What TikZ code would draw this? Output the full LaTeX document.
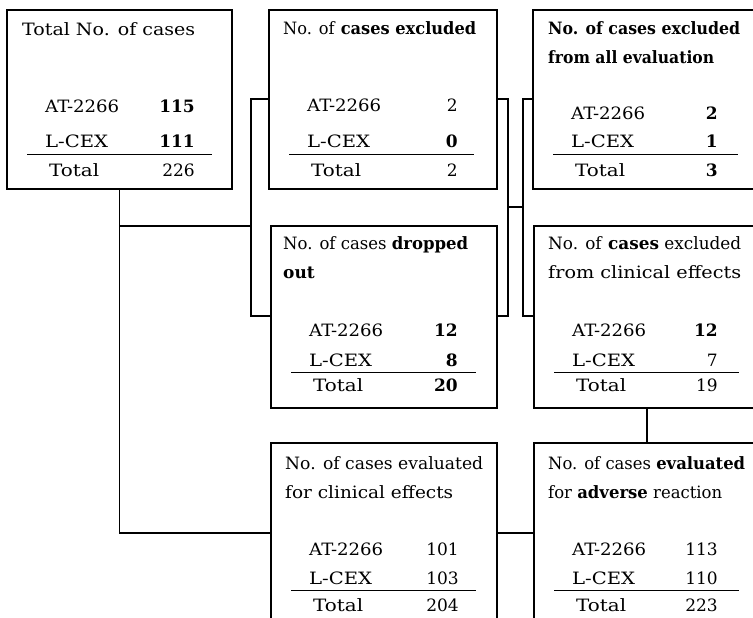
\documentclass[tikz,border=0pt]{standalone}
\usepackage{fontspec}
\usepackage{graphicx}
\setmainfont{DejaVu Serif}
\usetikzlibrary{calc}
\tikzset{
  box/.style={draw, line width=1.2pt, rectangle, inner sep=0pt, outer sep=0pt, anchor=north west},
  conn/.style={line width=1.2pt},
  txt/.style={anchor=base west, inner sep=0pt, font=\fontsize{17}{19}\selectfont},
  num/.style={anchor=base east, inner sep=0pt, font=\fontsize{17}{19}\selectfont},
  rulel/.style={line width=1pt},
}
\newcommand\fw[2]{\resizebox{#1}{\height}{#2}}
% #1 box, #2 AT num, #3 LCEX num, #4 total num, #5 yAT, #6 yL, #7 yRule, #8 yTot, #9 num x
\newcommand\tabrows[9]{%
  \node[txt] (#1a) at ($(#1.north west)+(38,#5)$) {\fw{74pt}{AT-2266}};
  \node[num] (#1an) at ($(#1.north west)+(#9,#5)$) {#2};
  \node[txt] (#1l) at ($(#1.north west)+(38,#6)$) {\fw{63pt}{L-CEX}};
  \node[num] (#1ln) at ($(#1.north west)+(#9,#6)$) {#3};
  \draw[rulel] ($(#1.north west)+(20,#7)$) -- ($(#1.north west)+(205,#7)$);
  \node[txt] (#1t) at ($(#1.north west)+(42,#8)$) {\fw{50pt}{Total}};
  \node[num] (#1tn) at ($(#1.north west)+(#9,#8)$) {#4};
}
\begin{document}
\begin{tikzpicture}[x=1pt,y=-1pt]
\useasboundingbox (0,0) rectangle (753,618);
\fill[white] (0,0) rectangle (753,618);
\clip (0,0) rectangle (753,618);
% boxes
\node[box, minimum width=225pt, minimum height=179pt] (b1) at (7,10) {};
\node[box, minimum width=228pt, minimum height=179pt] (b2) at (269,10) {};
\node[box, minimum width=240pt, minimum height=179pt] (b3) at (533,10) {};
\node[box, minimum width=226pt, minimum height=182pt] (b4) at (271,226) {};
\node[box, minimum width=240pt, minimum height=182pt] (b5) at (534,226) {};
\node[box, minimum width=226pt, minimum height=190pt] (b6) at (271,443) {};
\node[box, minimum width=240pt, minimum height=190pt] (b7) at (534,443) {};
% titles
\node[txt] (b1h) at ($(b1.north west)+(15,26)$) {\fw{173pt}{Total No. of cases}};
\node[txt] (b2h) at ($(b2.north west)+(14,25)$) {\fw{193pt}{No. of \textbf{cases excluded}}};
\node[txt] (b3h) at ($(b3.north west)+(15,25)$) {\fw{192pt}{\textbf{No. of cases excluded}}};
\node[txt] (b3h2) at ($(b3.north west)+(15,54)$) {\fw{166pt}{\textbf{from all evaluation}}};
\node[txt] (b4h) at ($(b4.north west)+(12,23)$) {\fw{185pt}{No. of cases \textbf{dropped}}};
\node[txt] (b4h2) at ($(b4.north west)+(12,52)$) {\textbf{out}};
\node[txt] (b5h) at ($(b5.north west)+(14,23)$) {\fw{193pt}{No. of \textbf{cases} excluded}};
\node[txt] (b5h2) at ($(b5.north west)+(14,52)$) {\fw{193pt}{from clinical effects}};
\node[txt] (b6h) at ($(b6.north west)+(14,26)$) {\fw{198pt}{No. of cases evaluated}};
\node[txt] (b6h2) at ($(b6.north west)+(14,55)$) {\fw{168pt}{for clinical effects}};
\node[txt] (b7h) at ($(b7.north west)+(14,26)$) {\fw{197pt}{No. of cases \textbf{evaluated}}};
\node[txt] (b7h2) at ($(b7.north west)+(14,55)$) {\fw{174pt}{for \textbf{adverse} reaction}};
% rows
\tabrows{b1}{\textbf{115}}{\textbf{111}}{226}{103}{137}{144}{166}{188}
\tabrows{b2}{2}{\textbf{0}}{2}{102}{137}{144}{166}{189}
\tabrows{b3}{\textbf{2}}{\textbf{1}}{\textbf{3}}{109}{137}{144}{166}{185}
\tabrows{b4}{\textbf{12}}{\textbf{8}}{\textbf{20}}{110}{140}{146}{165}{187}
\tabrows{b5}{\textbf{12}}{7}{19}{110}{140}{146}{165}{184}
\tabrows{b6}{101}{103}{204}{112}{141}{147}{168}{188}
\tabrows{b7}{113}{110}{223}{112}{141}{147}{168}{184}
% connectors
\coordinate (j1) at (b1.south |- 0,533);
\draw[conn] (b1.south) -- (j1) -- (j1 -| b6.west);
\draw[conn] (j1 -| b6.east) -- (j1 -| b7.west);
\coordinate (j2) at (b1.south |- 0,226);
\coordinate (L1) at (251,99);
\coordinate (L2) at (251,316);
\draw[conn] (j2) -- (j2 -| L1);
\draw[conn] (L1 -| b2.west) -- (L1) -- (L2) -- (L2 -| b4.west);
\coordinate (R1) at (508,99);
\coordinate (R2) at (508,316);
\draw[conn] (R1 -| b2.east) -- (R1) -- (R2) -- (R2 -| b4.east);
\coordinate (S1) at (523,99);
\coordinate (S2) at (523,316);
\draw[conn] (S1 -| b3.west) -- (S1) -- (S2) -- (S2 -| b5.west);
\draw[conn] (R1 |- 0,207) -- (S1 |- 0,207);
\draw[conn] (b5.south -| 647,0) -- (b7.north -| 647,0);
\end{tikzpicture}
\end{document}
